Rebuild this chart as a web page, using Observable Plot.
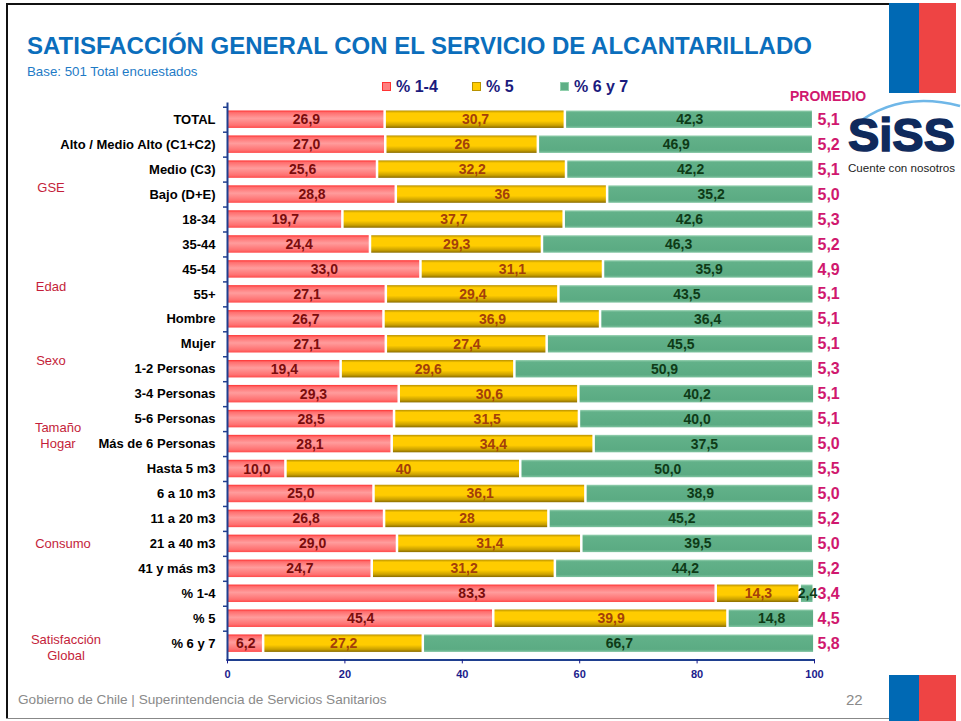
<!DOCTYPE html>
<html><head><meta charset="utf-8">
<script src="https://cdn.jsdelivr.net/npm/d3@7"></script>
<script src="https://cdn.jsdelivr.net/npm/@observablehq/plot@0.6"></script>
<style>
body{margin:0;background:#fff;font-family:Arial,"Liberation Sans",sans-serif;}
#page{position:relative;width:961px;height:721px;overflow:hidden;background:#fff;}
.abs{position:absolute;white-space:nowrap;line-height:1;}
.grp{position:absolute;color:#C41E3A;font-size:13px;line-height:16px;text-align:center;}
.leg{position:absolute;top:79px;font-size:16px;font-weight:bold;color:#1B1B7E;line-height:1;white-space:nowrap;}
.sw{display:inline-block;width:9px;height:9px;margin-right:5px;vertical-align:1px;}
#chart{position:absolute;left:0;top:100px;}
</style></head><body><div id="page">
<div class="abs" style="left:6px;top:3px;width:884px;height:2px;background:#111"></div>
<div class="abs" style="left:6px;top:3px;width:2px;height:716px;background:#111"></div>
<div class="abs" style="left:6px;top:718px;width:884px;height:1px;background:#888"></div>
<div class="abs" style="left:889px;top:3px;width:30px;height:90px;background:#0069B4"></div>
<div class="abs" style="left:919px;top:3px;width:37px;height:90px;background:#EE4444"></div>
<div class="abs" style="left:889px;top:675px;width:30px;height:46px;background:#0069B4"></div>
<div class="abs" style="left:919px;top:675px;width:37px;height:46px;background:#EE4444"></div>

<div class="abs" style="left:27px;top:34px;font-size:24px;font-weight:bold;color:#0B6EBC">SATISFACCIÓN GENERAL CON EL SERVICIO DE ALCANTARILLADO</div>
<div class="abs" style="left:27px;top:65px;font-size:13.3px;color:#1E7BC6">Base: 501 Total encuestados</div>

<div class="leg" style="left:382px"><span class="sw" style="background:#FF8080;border:1px solid #f33;box-sizing:border-box"></span>% 1-4</div>
<div class="leg" style="left:472px"><span class="sw" style="background:#FFCC00;border:1px solid #b89200;box-sizing:border-box"></span>% 5</div>
<div class="leg" style="left:560px"><span class="sw" style="background:#5FAF86;border:1px solid #8fcfab;box-sizing:border-box"></span>% 6 y 7</div>

<div class="abs" style="left:790px;top:89px;font-size:14px;font-weight:bold;color:#D0186E">PROMEDIO</div>

<svg class="abs" style="left:840px;top:92px" width="121" height="84">
  <path d="M14,34 Q58,-2 120,14" fill="none" stroke="#6FB7E8" stroke-width="2.5"/>
  <text x="8" y="59" textLength="107" lengthAdjust="spacingAndGlyphs" font-family="Arial" font-weight="bold" font-size="46" fill="#0F2A5C" stroke="#0F2A5C" stroke-width="1.5">SiSS</text>
  <text x="8" y="80" textLength="107" lengthAdjust="spacingAndGlyphs" font-family="Arial" font-size="10.5" fill="#222">Cuente con nosotros</text>
</svg>

<div class="grp" style="left:21px;top:180px;width:60px">GSE</div>
<div class="grp" style="left:21px;top:279px;width:60px">Edad</div>
<div class="grp" style="left:21px;top:353px;width:60px">Sexo</div>
<div class="grp" style="left:18px;top:420px;width:80px">Tamaño<br>Hogar</div>
<div class="grp" style="left:23px;top:536px;width:80px">Consumo</div>
<div class="grp" style="left:16px;top:632px;width:100px">Satisfacción<br>Global</div>

<div class="abs" style="left:18px;top:693px;font-size:13.6px;color:#8A8A8A">Gobierno de Chile | Superintendencia de Servicios Sanitarios</div>
<div class="abs" style="left:846px;top:692px;font-size:15px;color:#8A8A8A">22</div>
<div id="chart"></div>
</div>
<script>
const categories = ["TOTAL","Alto / Medio Alto (C1+C2)","Medio (C3)","Bajo (D+E)","18-34","35-44","45-54","55+","Hombre","Mujer","1-2 Personas","3-4 Personas","5-6 Personas","Más de 6 Personas","Hasta 5 m3","6 a 10 m3","11 a 20 m3","21 a 40 m3","41 y más m3","% 1-4","% 5","% 6 y 7"];
const pct1a4 = [26.9,27.0,25.6,28.8,19.7,24.4,33.0,27.1,26.7,27.1,19.4,29.3,28.5,28.1,10.0,25.0,26.8,29.0,24.7,83.3,45.4,6.2];
const pct5   = [30.7,26,32.2,36,37.7,29.3,31.1,29.4,36.9,27.4,29.6,30.6,31.5,34.4,40,36.1,28,31.4,31.2,14.3,39.9,27.2];
const pct6y7 = [42.3,46.9,42.2,35.2,42.6,46.3,35.9,43.5,36.4,45.5,50.9,40.2,40.0,37.5,50.0,38.9,45.2,39.5,44.2,2.4,14.8,66.7];
const promedio = [5.1,5.2,5.1,5.0,5.3,5.2,4.9,5.1,5.1,5.1,5.3,5.1,5.1,5.0,5.5,5.0,5.2,5.0,5.2,3.4,4.5,5.8];
const seriesNames = ["% 1-4","% 5","% 6 y 7"];
const xTicks = [0,20,40,60,80,100];

const comma = s => s.replace(".", ",");
const fmt1 = v => comma(v.toFixed(1));
const fmtRaw = v => comma(String(v));

const long = [];
categories.forEach((c, i) => {
  const vals = [pct1a4[i], pct5[i], pct6y7[i]];
  let start = 0;
  vals.forEach((v, j) => {
    long.push({cat: c, series: seriesNames[j], value: v, mid: start + v / 2,
               label: j === 1 ? fmtRaw(v) : fmt1(v)});
    start += v;
  });
});
const avgData = categories.map((c, i) => ({cat: c, txt: fmt1(promedio[i])}));

const H = 556.4, nb = categories.length, pad = 0.3;
const step = H / (nb + pad);
const navy = "#1F3F8F";

const chart = Plot.plot({
  width: 961, height: 590,
  marginLeft: 227, marginRight: 147, marginTop: 3, marginBottom: 590 - 3 - H,
  style: {fontFamily: "Arial, 'Liberation Sans', sans-serif", overflow: "visible", background: "transparent"},
  x: {domain: [0, 100], axis: null},
  y: {domain: categories, padding: pad, round: false, axis: null},
  color: {domain: seriesNames, range: ["url(#gR)", "url(#gY)", "url(#gG)"]},
  marks: [
    Plot.barX(long, Plot.stackX({x: "value", y: "cat", fill: "series", insetLeft: 1, insetRight: 1.5})),
    Plot.text(long.filter(d => d.series === seriesNames[0]), {x: "mid", y: "cat", text: "label", fill: "#7A0C0C", fontWeight: "bold", fontSize: 14}),
    Plot.text(long.filter(d => d.series === seriesNames[1]), {x: "mid", y: "cat", text: "label", fill: "#A3400A", fontWeight: "bold", fontSize: 14}),
    Plot.text(long.filter(d => d.series === seriesNames[2]), {x: "mid", y: "cat", text: "label", fill: "#0E3B17", fontWeight: "bold", fontSize: 14}),
    Plot.text(avgData, {y: "cat", text: "txt", frameAnchor: "right", textAnchor: "start", dx: 3, fill: "#D0186E", fontWeight: "bold", fontSize: 16}),
    Plot.axisY({tickSize: 0, tickPadding: 12, label: null, fontWeight: "bold", fontSize: 13, color: "#000"}),
    Plot.ruleY(categories, {y: d => d, x1: 0, x2: 0, insetLeft: -4, dy: -step / 2, stroke: navy, strokeWidth: 1.5}),
    Plot.frame({anchor: "left", stroke: navy, strokeWidth: 2, strokeDasharray: "1.5,1"}),
    Plot.frame({anchor: "bottom", stroke: navy, strokeWidth: 2, strokeDasharray: "1.5,1"}),
    Plot.axisX({ticks: xTicks, tickSize: 4, tickPadding: 6, label: null, fontWeight: "bold", fontSize: 11, color: "#1B1B8C", tickFormat: d => d})
  ]
});

d3.select(chart).insert("defs", ":first-child").html(`
<linearGradient id="gR" x1="0" y1="0" x2="0" y2="1">
 <stop offset="0" stop-color="#FF3030"/><stop offset="0.12" stop-color="#FF6E6E"/>
 <stop offset="0.45" stop-color="#FF9C9C"/><stop offset="0.85" stop-color="#FF7070"/><stop offset="1" stop-color="#FF4A4A"/>
</linearGradient>
<linearGradient id="gY" x1="0" y1="0" x2="0" y2="1">
 <stop offset="0" stop-color="#B89000"/><stop offset="0.15" stop-color="#FFCC00"/>
 <stop offset="0.6" stop-color="#FFCC00"/><stop offset="0.85" stop-color="#C9A000"/><stop offset="1" stop-color="#8A6C00"/>
</linearGradient>
<linearGradient id="gG" x1="0" y1="0" x2="0" y2="1">
 <stop offset="0" stop-color="#9AD3B3"/><stop offset="0.12" stop-color="#62B189"/>
 <stop offset="0.85" stop-color="#5BAB83"/><stop offset="1" stop-color="#7FC3A0"/>
</linearGradient>`);

document.getElementById("chart").appendChild(chart);
</script>
</body></html>
